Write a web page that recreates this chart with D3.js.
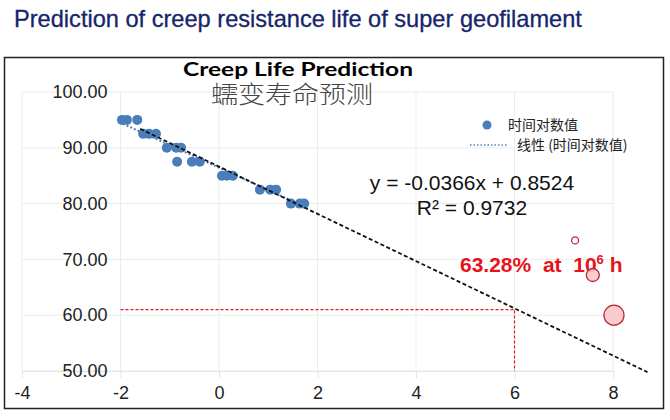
<!DOCTYPE html>
<html><head><meta charset="utf-8">
<script src="https://cdn.jsdelivr.net/npm/d3@7"></script>
<style>body{margin:0;background:#fff}svg{display:block}</style>
</head><body>
<svg id="c" width="670" height="420"></svg>
<script>
// ---- data ----
const pointX = [-1.97,-1.87,-1.66,-1.54,-1.42,-1.28,-1.06,-0.87,-0.77,-0.85,-0.55,-0.39,0.06,0.16,0.28,0.83,1.04,1.16,1.46,1.64,1.73];
const pointY = [95,95,95,92.5,92.5,92.5,90,90,90,87.5,87.5,87.5,85,85,85,82.5,82.5,82.5,80,80,80];
const fitX = [-1.6, 8.7];
const fitY = [93.4, 49.8];
const trendX = [-1.95, 1.75];
const trendY = [94.3, 79.4];
const markX = [-2, 6, 6];
const markY = [61, 61, 50];
const bubbleX = [7.23, 7.59, 8.02];
const bubbleY = [73.4, 67.2, 60.0];
const xTicks = [-4,-2,0,2,4,6,8];
const yTicks = [50,60,70,80,90,100];
const legendLabels = ["时间对数值", "线性 (时间对数值)"];

const svg = d3.select("#c");
const x = d3.scaleLinear().domain([-4,8]).range([22,613]);
const y = d3.scaleLinear().domain([50,100]).range([371,92]);

// page title
svg.append("text").attr("x",14).attr("y",27)
  .attr("font-family","Liberation Sans, Arial, sans-serif").attr("font-size",23.6)
  .attr("fill","#16256a").attr("stroke","#16256a").attr("stroke-width",0.3)
  .text("Prediction of creep resistance life of super geofilament");

// frame
svg.append("rect").attr("x",4.5).attr("y",57.5).attr("width",659).attr("height",351)
  .attr("fill","none").attr("stroke","#222").attr("stroke-width",1.5);

// grid
const g = svg.append("g");
g.selectAll(".hg").data(yTicks).join("line")
  .attr("x1",x(-4)).attr("x2",x(8)).attr("y1",d=>y(d)).attr("y2",d=>y(d))
  .attr("stroke","#ebebeb").attr("stroke-width",1);
g.selectAll(".vg").data(xTicks).join("line")
  .attr("x1",d=>x(d)).attr("x2",d=>x(d)).attr("y1",y(100)).attr("y2",y(50))
  .attr("stroke","#ebebeb").attr("stroke-width",1);

// axes
const xa = svg.append("g").attr("transform",`translate(0,${y(50)})`)
  .call(d3.axisBottom(x).tickValues(xTicks).tickFormat(d=>String(d)).tickSize(7).tickPadding(8));
xa.select(".domain").attr("stroke","#e4e4e4");
xa.selectAll(".tick line").attr("stroke","#e4e4e4");
xa.selectAll("text").attr("font-family","Liberation Sans, Arial, sans-serif").attr("font-size",18).attr("fill","#222");

const ya = svg.append("g").attr("transform",`translate(${x(-2)},0)`)
  .call(d3.axisLeft(y).tickValues(yTicks).tickFormat(d3.format(".2f")).tickSize(0).tickPadding(13));
ya.select(".domain").remove();
ya.selectAll("text").attr("font-family","Liberation Sans, Arial, sans-serif").attr("font-size",18).attr("fill","#222");

// red guide
svg.append("path").datum(d3.zip(markX,markY))
  .attr("d",d3.line().x(d=>x(d[0])).y(d=>y(d[1])))
  .attr("fill","none").attr("stroke","#e31a1c").attr("stroke-width",1.2).attr("stroke-dasharray","3,2");

// trendline (blue dotted)
svg.append("path").datum(d3.zip(trendX,trendY))
  .attr("d",d3.line().x(d=>x(d[0])).y(d=>y(d[1])))
  .attr("fill","none").attr("stroke","#4f81bd").attr("stroke-width",2).attr("stroke-dasharray","2,2");

// points
svg.selectAll(".pt").data(d3.zip(pointX,pointY)).join("circle")
  .attr("cx",d=>x(d[0])).attr("cy",d=>y(d[1])).attr("r",5).attr("fill","#4a7ebb");

// fit line (black dashed)
svg.append("path").datum(d3.zip(fitX,fitY))
  .attr("d",d3.line().x(d=>x(d[0])).y(d=>y(d[1])))
  .attr("fill","none").attr("stroke","#111").attr("stroke-width",1.8).attr("stroke-dasharray","4,2.5");

// chart titles
svg.append("text").attr("x",298).attr("y",76).attr("text-anchor","middle")
  .attr("font-family","Lato, Open Sans, sans-serif").attr("font-weight",700).attr("font-size",19)
  .attr("textLength",230).attr("lengthAdjust","spacingAndGlyphs")
  .attr("fill","#000").text("Creep Life Prediction");
svg.append("text").attr("x",292).attr("y",103).attr("text-anchor","middle")
  .attr("font-family","Noto Sans CJK SC, sans-serif").attr("font-weight",300).attr("font-size",24)
  .attr("textLength",162).attr("lengthAdjust","spacingAndGlyphs")
  .attr("fill","#444").text("蠕变寿命预测");

// legend
svg.append("circle").attr("cx",487).attr("cy",125).attr("r",4.5).attr("fill","#4a7ebb");
svg.append("text").attr("x",508).attr("y",130).attr("font-family","Noto Sans CJK SC, sans-serif")
  .attr("font-size",14).attr("fill","#222").text(legendLabels[0]);
svg.append("line").attr("x1",470).attr("x2",508).attr("y1",145).attr("y2",145)
  .attr("stroke","#4f81bd").attr("stroke-width",1.5).attr("stroke-dasharray","1.5,2");
svg.append("text").attr("x",517).attr("y",150).attr("font-family","Noto Sans CJK SC, sans-serif")
  .attr("font-size",14).attr("fill","#222").text(legendLabels[1]);

// equation
svg.append("text").attr("x",472).attr("y",190).attr("text-anchor","middle")
  .attr("font-family","Liberation Sans, Arial, sans-serif").attr("font-size",21).attr("fill","#111")
  .text("y = -0.0366x + 0.8524");
svg.append("text").attr("x",472).attr("y",215).attr("text-anchor","middle")
  .attr("font-family","Liberation Sans, Arial, sans-serif").attr("font-size",21).attr("fill","#111")
  .text("R\u00b2 = 0.9732");

// red annotation
const ann = svg.append("text").attr("x",460).attr("y",272)
  .attr("font-family","Liberation Sans, Arial, sans-serif").attr("font-weight",700).attr("font-size",21)
  .attr("fill","#e8121b");
ann.append("tspan").text("63.28%\u00a0\u00a0at\u00a0\u00a010");
ann.append("tspan").attr("font-size",13).attr("dy",-8).text("6");
ann.append("tspan").attr("dy",8).text("\u00a0h");

// bubbles
const bubbleR = [3.5, 6.5, 10];
svg.selectAll(".bb").data(d3.zip(bubbleX,bubbleY,bubbleR)).join("circle")
  .attr("cx",d=>x(d[0])).attr("cy",d=>y(d[1])).attr("r",d=>d[2])
  .attr("fill",(d,i)=>i===0?"#fff":"#f8c6ca").attr("fill-opacity",0.9)
  .attr("stroke","#c0282f").attr("stroke-width",1.3);
</script>
</body></html>
